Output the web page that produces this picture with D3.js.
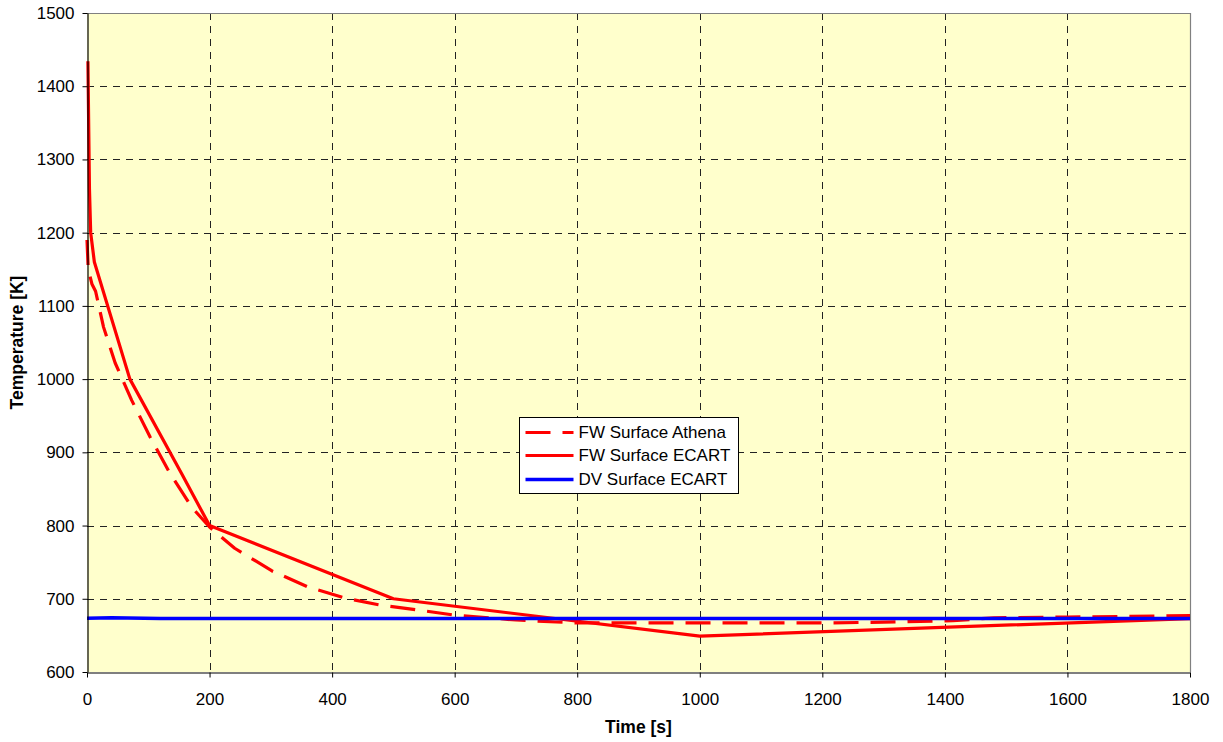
<!DOCTYPE html>
<html>
<head>
<meta charset="utf-8">
<script src="https://cdn.jsdelivr.net/npm/d3@7"></script>
<style>
  html, body { margin: 0; padding: 0; background: #ffffff; }
  svg { display: block; font-family: "Liberation Sans", Arial, sans-serif; }
</style>
</head>
<body>
<svg id="chart" width="1223" height="742"></svg>
<script>
// Time axis ticks [s] and temperature axis ticks [K]
const timeTicks = [0, 200, 400, 600, 800, 1000, 1200, 1400, 1600, 1800];
const tempTicks = [600, 700, 800, 900, 1000, 1100, 1200, 1300, 1400, 1500];

// FW Surface Athena
const athenaTime = [0, 2, 8, 14, 27, 46, 73, 103, 135, 171, 200, 241, 302, 361, 421, 481, 538, 597, 700, 800, 1000, 1200, 1300, 1413, 1480, 1600, 1800];
const athenaTemp = [1190, 1150, 1130, 1120, 1071, 1022, 971, 921, 872, 825, 798, 769, 738, 716, 701, 691, 685, 678, 671, 667, 667, 667, 668, 670, 674, 675, 677];

// FW Surface ECART
const fwEcartTime = [1.5, 4, 6, 12, 70, 155, 200, 500, 1000, 1800];
const fwEcartTemp = [1434, 1260, 1200, 1160, 1000, 870, 800, 700, 649, 673];

// DV Surface ECART
const dvEcartTime = [0, 40, 120, 600, 1200, 1800];
const dvEcartTemp = [673.5, 674, 673, 673, 673, 673];

const seriesNames = ["FW Surface Athena", "FW Surface ECART", "DV Surface ECART"];

const svg = d3.select("#chart");
const margin = { left: 87, right: 1190, top: 13, bottom: 672 };

const x = d3.scaleLinear().domain([0, 1800]).range([margin.left, margin.right]);
const y = d3.scaleLinear().domain([600, 1500]).range([margin.bottom, margin.top]);

// plot area background
svg.append("rect")
  .attr("x", margin.left).attr("y", margin.top)
  .attr("width", margin.right - margin.left)
  .attr("height", margin.bottom - margin.top)
  .attr("fill", "#ffffcc");

// dashed grid
const grid = svg.append("g").attr("stroke", "#222").attr("stroke-width", 1)
  .attr("stroke-dasharray", "7,6").attr("fill", "none");
grid.selectAll("line.v").data(timeTicks.slice(1, -1)).join("line")
  .attr("class", "v")
  .attr("x1", d => Math.round(x(d)) + 0.5).attr("x2", d => Math.round(x(d)) + 0.5)
  .attr("y1", margin.top).attr("y2", margin.bottom);
grid.selectAll("line.h").data(tempTicks.slice(1, -1)).join("line")
  .attr("class", "h")
  .attr("x1", margin.left).attr("x2", margin.right)
  .attr("y1", d => Math.round(y(d)) + 0.5).attr("y2", d => Math.round(y(d)) + 0.5);

// gray frame on top and right
svg.append("path")
  .attr("d", `M${margin.left},${margin.top + 0.5}H${margin.right + 0.5}V${margin.bottom}`)
  .attr("stroke", "#808080").attr("stroke-width", 1.2).attr("fill", "none");

// series
const line = d3.line().x(d => x(d[0])).y(d => y(d[1]));
const zip = (a, b) => a.map((v, i) => [v, b[i]]);

const styles = [
  { color: "#ff0000", dash: "25,12", width: 3.2 },
  { color: "#ff0000", dash: null, width: 3.2 },
  { color: "#0000ff", dash: null, width: 3.4 }
];
const seriesData = [
  zip(athenaTime, athenaTemp),
  zip(fwEcartTime, fwEcartTemp),
  zip(dvEcartTime, dvEcartTemp)
];

seriesData.forEach((pts, i) => {
  svg.append("path")
    .datum(pts)
    .attr("d", line)
    .attr("fill", "none")
    .attr("stroke", styles[i].color)
    .attr("stroke-width", styles[i].width)
    .attr("stroke-linejoin", "round")
    .attr("stroke-dasharray", styles[i].dash);
});

// axes
const yAxis = d3.axisLeft(y).tickValues(tempTicks).tickFormat(d3.format("d"))
  .tickSize(5).tickSizeOuter(0).tickPadding(8);
const xAxis = d3.axisBottom(x).tickValues(timeTicks).tickFormat(d3.format("d"))
  .tickSize(5).tickSizeOuter(0).tickPadding(15);

const gy = svg.append("g").attr("transform", `translate(${margin.left + 0.5},0)`).call(yAxis);
const gx = svg.append("g").attr("transform", `translate(0,${margin.bottom + 0.5})`).call(xAxis);
[gx, gy].forEach(g => {
  g.selectAll("path.domain").attr("stroke", "#000").attr("stroke-width", 1.2);
  g.selectAll(".tick line").attr("stroke", "#000");
  g.selectAll(".tick text").attr("fill", "#000")
    .style("font-size", "17px").style("font-family", "'Liberation Sans', Arial, sans-serif");
});

// axis titles
svg.append("text")
  .attr("x", (margin.left + margin.right) / 2).attr("y", 733)
  .attr("text-anchor", "middle")
  .style("font-size", "17.5px").style("font-weight", "bold")
  .text("Time [s]");
svg.append("text")
  .attr("transform", `translate(23,${(margin.top + margin.bottom) / 2}) rotate(-90)`)
  .attr("text-anchor", "middle")
  .style("font-size", "17.5px").style("font-weight", "bold")
  .text("Temperature [K]");

// legend
const legend = svg.append("g").attr("transform", "translate(519.5,417.5)");
legend.append("rect")
  .attr("width", 219).attr("height", 76)
  .attr("fill", "#ffffff").attr("stroke", "#000").attr("stroke-width", 1);
const rowY = [15, 38, 62];
seriesNames.forEach((name, i) => {
  legend.append("line")
    .attr("x1", 6).attr("x2", 54)
    .attr("y1", rowY[i]).attr("y2", rowY[i])
    .attr("stroke", styles[i].color)
    .attr("stroke-width", styles[i].width)
    .attr("stroke-dasharray", styles[i].dash);
  legend.append("text")
    .attr("x", 59).attr("y", rowY[i]).attr("dy", "0.35em")
    .style("font-size", "17px")
    .text(name);
});
</script>
</body>
</html>
